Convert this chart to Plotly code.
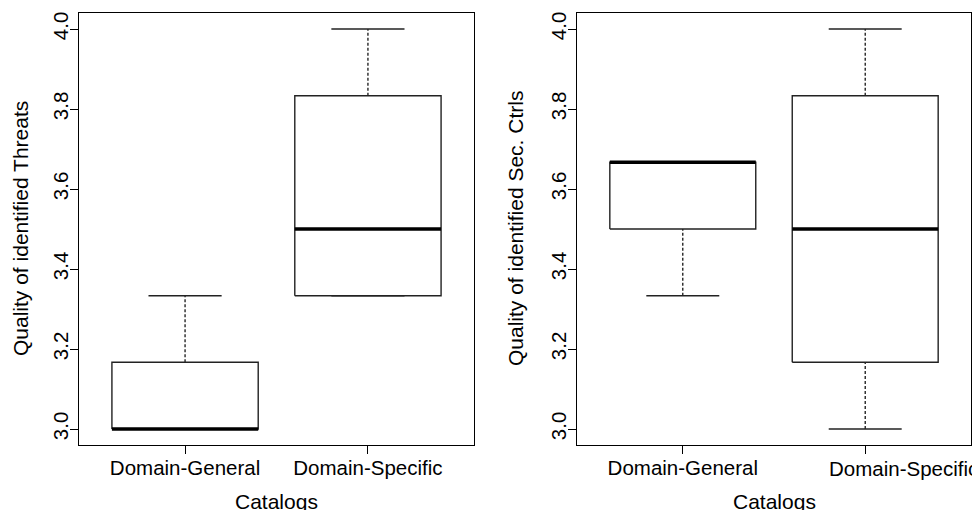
import plotly.graph_objects as go

categories = ["Domain-General", "Domain-Specific"]
positions = [1, 2]

# Left panel: Quality of identified Threats
threats_min = [3.0, 3.333]
threats_q1 = [3.0, 3.333]
threats_median = [3.0, 3.5]
threats_q3 = [3.1667, 3.8333]
threats_max = [3.333, 4.0]

# Right panel: Quality of identified Sec. Ctrls
ctrls_min = [3.333, 3.0]
ctrls_q1 = [3.5, 3.1667]
ctrls_median = [3.667, 3.5]
ctrls_q3 = [3.667, 3.8333]
ctrls_max = [3.667, 4.0]

y_ticks = [3.0, 3.2, 3.4, 3.6, 3.8, 4.0]
y_ticktext = ["3.0", "3.2", "3.4", "3.6", "3.8", "4.0"]

x_title = "Catalogs"
y_titles = ["Quality of identified Threats", "Quality of identified Sec. Ctrls"]

BOX_HALF = 0.4
CAP_HALF = 0.2
LINE_COL = "#222222"
FONT = "Liberation Sans, Arial, Helvetica, sans-serif"
TICK_SIZE = 20.5
TITLE_SIZE = 21

fig = go.Figure()


def add_boxes(mins, q1s, meds, q3s, maxs, xa, ya):
    for i, p in enumerate(positions):
        common = dict(mode="lines", showlegend=False, hoverinfo="skip", xaxis=xa, yaxis=ya)
        # whiskers (dashed)
        fig.add_trace(go.Scatter(x=[p, p], y=[q3s[i], maxs[i]],
                                 line=dict(color="black", width=1.2, dash="3px,2px"), **common))
        fig.add_trace(go.Scatter(x=[p, p], y=[mins[i], q1s[i]],
                                 line=dict(color="black", width=1.2, dash="3px,2px"), **common))
        # caps
        fig.add_trace(go.Scatter(x=[p - CAP_HALF, p + CAP_HALF], y=[maxs[i], maxs[i]],
                                 line=dict(color=LINE_COL, width=1.4), **common))
        fig.add_trace(go.Scatter(x=[p - CAP_HALF, p + CAP_HALF], y=[mins[i], mins[i]],
                                 line=dict(color=LINE_COL, width=1.4), **common))
        # box
        fig.add_trace(go.Scatter(x=[p - BOX_HALF, p + BOX_HALF, p + BOX_HALF, p - BOX_HALF, p - BOX_HALF],
                                 y=[q1s[i], q1s[i], q3s[i], q3s[i], q1s[i]],
                                 line=dict(color=LINE_COL, width=1.4), **common))
        # median
        fig.add_trace(go.Scatter(x=[p - BOX_HALF, p + BOX_HALF], y=[meds[i], meds[i]],
                                 line=dict(color="black", width=3.4), **common))


add_boxes(threats_min, threats_q1, threats_median, threats_q3, threats_max, "x", "y")
add_boxes(ctrls_min, ctrls_q1, ctrls_median, ctrls_q3, ctrls_max, "x2", "y2")

# page body has an 8px margin; size the figure so it ends at the window edge
OFF = 8
W, H = 980 - OFF, 510 - OFF


def fx(px):
    return (px - OFF) / W


def fy(px):
    return 1 - (px - OFF) / H


xaxis_common = dict(
    range=[0.42, 2.58], tickvals=positions,
    showline=True, mirror=True, linecolor="black", linewidth=1.3,
    ticks="outside", ticklen=8, tickcolor="black", tickwidth=1.2, showgrid=False, zeroline=False,
    tickfont=dict(size=TICK_SIZE, color="black", family=FONT), ticklabelstandoff=-4,
    automargin=False, fixedrange=True,
)
yaxis_common = dict(
    range=[2.96, 4.04], tickvals=y_ticks, ticktext=y_ticktext, tickangle=-90,
    showline=True, mirror=True, linecolor="black", linewidth=1.3,
    ticks="outside", ticklen=8, tickcolor="black", tickwidth=1.2, showgrid=False, zeroline=False,
    tickfont=dict(size=TICK_SIZE, color="black", family=FONT), ticklabelstandoff=-6,
    automargin=False, fixedrange=True,
)
ydom = [fy(445), fy(13)]
xdoms = [[fx(79), fx(474)], [fx(577), fx(971)]]

title_font = dict(size=TITLE_SIZE, color="black", family=FONT)
annotations = []
for k in range(2):
    # x-axis title centred under each panel
    annotations.append(dict(
        text=x_title, xref="paper", yref="paper",
        x=(xdoms[k][0] + xdoms[k][1]) / 2, y=fy(488),
        xanchor="center", yanchor="top", showarrow=False, font=title_font,
    ))
ytitle_x = [fx(20), fx(515)]
for k in range(2):
    annotations.append(dict(
        text=y_titles[k], xref="paper", yref="paper",
        x=ytitle_x[k], y=(ydom[0] + ydom[1]) / 2, textangle=-90,
        xanchor="center", yanchor="middle", showarrow=False, font=title_font,
    ))
# the last category label of the right panel is pushed against the page edge
annotations.append(dict(
    text=categories[1], xref="paper", yref="paper",
    x=1.0, y=fy(468), xanchor="right", yanchor="middle", showarrow=False,
    font=dict(size=TICK_SIZE, color="black", family=FONT),
))

fig.update_layout(
    width=W, height=H,
    margin=dict(l=0, r=0, t=0, b=0),
    paper_bgcolor="white", plot_bgcolor="white",
    font=dict(family=FONT, color="black"),
    xaxis=dict(domain=xdoms[0], anchor="y", ticktext=categories, **xaxis_common),
    yaxis=dict(domain=ydom, anchor="x", **yaxis_common),
    xaxis2=dict(domain=xdoms[1], anchor="y2", ticktext=[categories[0], ""], **xaxis_common),
    yaxis2=dict(domain=ydom, anchor="x2", **yaxis_common),
    annotations=annotations,
)

fig.write_html("out.html")
